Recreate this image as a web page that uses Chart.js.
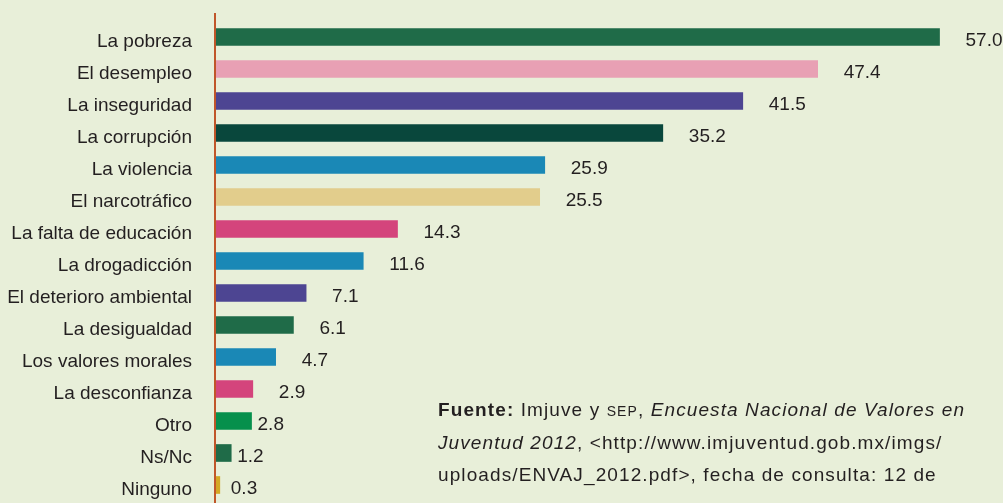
<!DOCTYPE html>
<html>
<head>
<meta charset="utf-8">
<script src="https://cdn.jsdelivr.net/npm/chart.js@4"></script>
<style>
  html, body { margin: 0; padding: 0; background: #e8efd9; }
  #wrap { position: relative; width: 1003px; height: 503px; overflow: hidden; }
  #chart { display: block; }
  #fuente {
    position: absolute; left: 438px; top: 394px;
    font: 19px "Liberation Sans", Arial, sans-serif; line-height: 32px;
    letter-spacing: 1.1px;
    color: #231f20; white-space: nowrap;
  }
  #fuente .sc { font-size: 14px; }
</style>
</head>
<body>
<div id="wrap">
  <canvas id="chart" width="1003" height="503"></canvas>
  <div id="fuente"><b>Fuente:</b> Imjuve y <span class="sc">SEP</span>, <i>Encuesta Nacional de Valores en</i><br><i>Juventud 2012</i>, &lt;http://www.imjuventud.gob.mx/imgs/<br>uploads/ENVAJ_2012.pdf&gt;, fecha de consulta: 12 de</div>
</div>
<script>
/* problemas que más preocupan a los jóvenes (%) */

const categories = [
  'La pobreza', 'El desempleo', 'La inseguridad', 'La corrupción', 'La violencia',
  'El narcotráfico', 'La falta de educación', 'La drogadicción', 'El deterioro ambiental',
  'La desigualdad', 'Los valores morales', 'La desconfianza', 'Otro', 'Ns/Nc', 'Ninguno'
];
const values = [57.0, 47.4, 41.5, 35.2, 25.9, 25.5, 14.3, 11.6, 7.1, 6.1, 4.7, 2.9, 2.8, 1.2, 0.3];
const barColors = [
  '#1f6b48', '#e8a0b4', '#4d4592', '#09473c', '#1a88b6',
  '#e2cd8c', '#d4447c', '#1a88b6', '#4d4592', '#1f6b48',
  '#1a88b6', '#d4447c', '#06904c', '#1f6b48', '#d4a824'
];

// etiquetas de valor a la derecha de cada barra
const valueLabels = {
  id: 'valueLabels',
  afterDatasetsDraw(chart) {
    const ctx = chart.ctx;
    const meta = chart.getDatasetMeta(0);
    ctx.save();
    ctx.font = '19px "Liberation Sans", Arial, sans-serif';
    ctx.fillStyle = '#231f20';
    ctx.textAlign = 'left';
    ctx.textBaseline = 'middle';
    meta.data.forEach(function(bar, i) {
      const gap = i < 12 ? 26 : (i === 14 ? 11 : 6);
      ctx.fillText(values[i].toFixed(1), bar.x + gap, bar.y + 4);
    });
    ctx.restore();
  }
};

// línea vertical del eje
const axisLine = {
  id: 'axisLine',
  afterDraw(chart) {
    const ctx = chart.ctx;
    const x = chart.scales.x.getPixelForValue(0) - 1;
    ctx.save();
    ctx.strokeStyle = '#c0562a';
    ctx.lineWidth = 2;
    ctx.beginPath();
    ctx.moveTo(x, 13);
    ctx.lineTo(x, chart.height);
    ctx.stroke();
    ctx.restore();
  }
};

new Chart(document.getElementById('chart'), {
  type: 'bar',
  data: {
    labels: categories,
    datasets: [{ data: values, backgroundColor: barColors, barThickness: 17 }]
  },
  plugins: [valueLabels, axisLine],
  options: {
    indexAxis: 'y',
    responsive: false,
    animation: false,
    layout: { padding: { top: 21, bottom: 2, left: 0, right: 0 } },
    plugins: { legend: { display: false }, tooltip: { enabled: false } },
    scales: {
      x: { display: false, min: 0, max: 62 },
      y: {
        afterFit(scale) {
          scale.width = 216;
          // el padding de las etiquetas no debe encoger el área vertical
          scale.paddingTop = 0;
          scale.paddingBottom = 0;
        },
        border: { display: false },
        grid: { display: false, drawTicks: false },
        ticks: {
          padding: 24,
          labelOffset: 5,
          color: '#231f20',
          font: { size: 19, family: '"Liberation Sans", Arial, sans-serif' }
        }
      }
    }
  }
});
</script>
</body>
</html>
